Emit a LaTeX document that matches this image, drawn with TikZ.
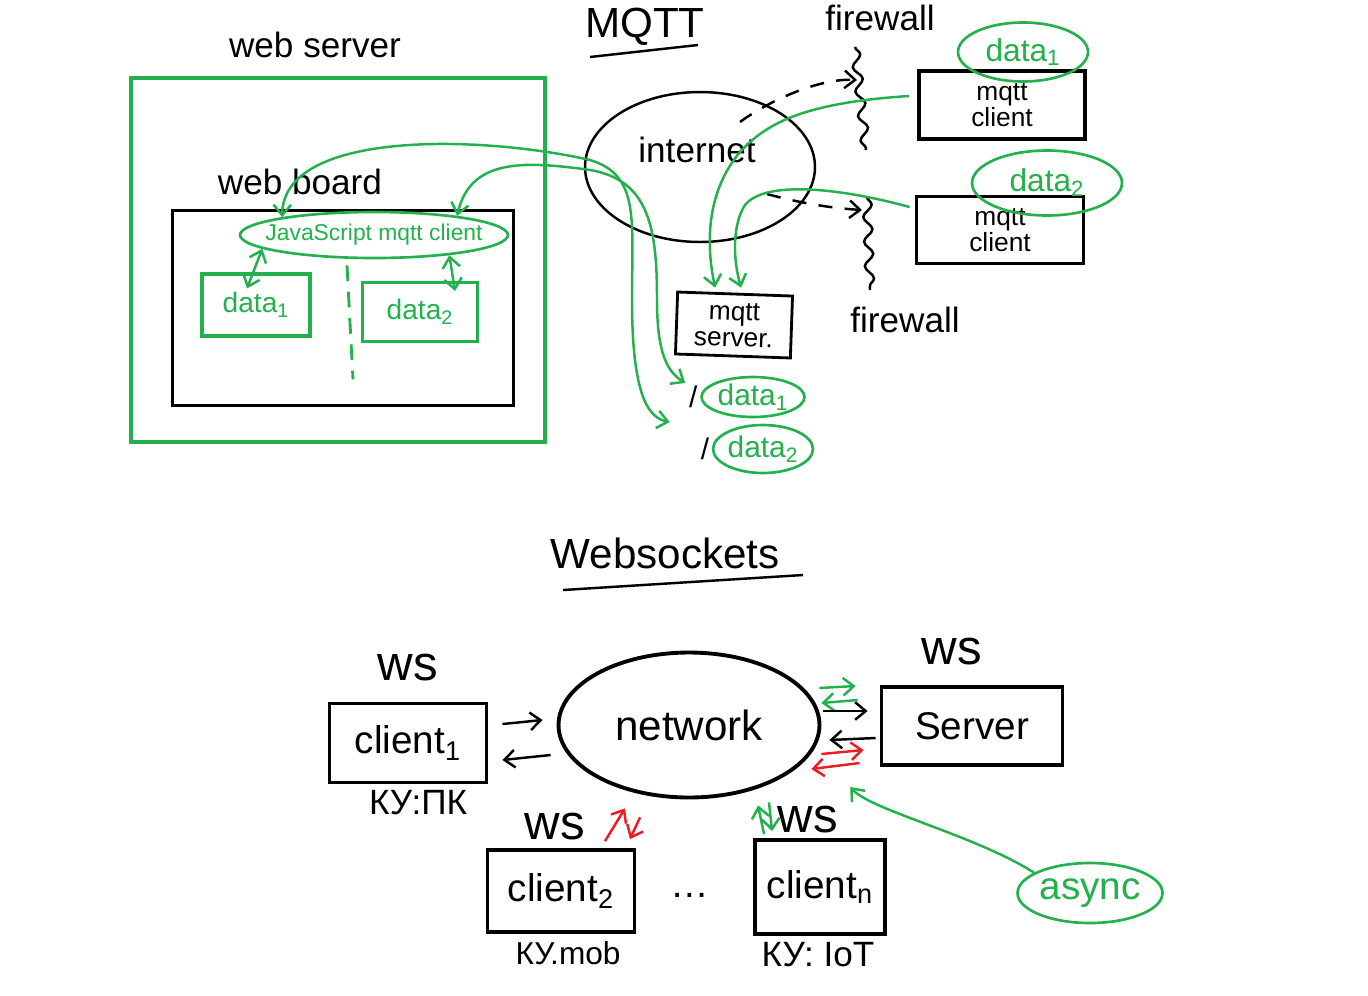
\documentclass[tikz,border=0pt]{standalone}
\usepackage{fontspec}
\setmainfont{Liberation Sans}
\usetikzlibrary{arrows.meta,shapes.geometric,positioning,calc,decorations.pathmorphing}

\definecolor{pgreen}{RGB}{34,177,76}
\definecolor{pred}{RGB}{237,28,36}

\begin{document}
\begin{tikzpicture}[
    x=0.02cm, y=-0.02cm,
    >={Straight Barb[length=6pt,width=10pt]},
    txt/.style={font=\fontsize{#1}{#1}\selectfont},
    box/.style={draw, line width=2.2pt, inner sep=0pt},
    gbox/.style={draw=pgreen, text=pgreen, line width=1.8pt, inner sep=0pt},
    gell/.style={ellipse, draw=pgreen, text=pgreen, line width=1.5pt, inner sep=0pt},
    arr/.style={->, line width=1.4pt},
    garr/.style={arr, pgreen},
    rarr/.style={arr, pred},
    wall/.style={line width=1.4pt, decorate, decoration={snake, amplitude=2.5pt, segment length=14pt}}
]
\fill[white] (0,0) rectangle (1368,995);
\useasboundingbox (0,0) rectangle (1368,995);

% web server with its board
\node[txt=20] (webserverlbl) at (315,45) {web server};
\node[gbox, line width=2.4pt, minimum width=8.28cm, minimum height=7.28cm] (webserver) at (338,260) {};
\node[txt=20] (webboardlbl) at (300,182) {web board};
\node[box, minimum width=6.82cm, minimum height=3.9cm] (webboard) at (343,308) {};
\node[gell, txt=13, inner xsep=-14pt, minimum width=5.36cm, minimum height=0.92cm] (jsclient) at (374,235) {JavaScript mqtt client};
\node[gbox, txt=16, minimum width=2.16cm, minimum height=1.24cm] (data1) at (256,305) {data\textsubscript{1}};
\node[gbox, txt=16, minimum width=2.3cm, minimum height=1.18cm] (data2) at (420,312) {data\textsubscript{2}};

\draw[garr, <->] (jsclient.187) -- ([shift={(-9,16)}]data1.north);
\draw[garr, <->] (jsclient.-15) -- ([shift={(35,10)}]data2.north);
\draw[pgreen, line width=1.6pt, dash pattern=on 9pt off 6pt] ([shift={(-27,6)}]jsclient.south) -- ([shift={(10,-28)}]webboard.south);

% MQTT
\node[txt=24] (mqttlbl) at (645,27) {MQTT};
\draw[line width=1.4pt] (590,57) -- (698,45);
\node[ellipse, draw, line width=1.4pt, minimum width=4.6cm, minimum height=3cm] (internet) at (700,167) {};
\node[txt=20] (internetlbl) at (697,150) {internet};
\node[txt=20] (fwtoplbl) at (880,18) {firewall};
\node[txt=20] (fwbotlbl) at (905,320) {firewall};
\coordinate (fw1a) at (855,47);
\coordinate (fw1b) at (866,150);
\coordinate (fw2a) at (867,197);
\coordinate (fw2b) at (870,290);
\coordinate (fwhit1) at (857,80);
\coordinate (fwhit2) at (862,210);
\draw[wall] (fw1a) -- (fw1b);
\draw[wall] (fw2a) -- (fw2b);

\node[box, txt=15, align=center, minimum width=3.32cm, minimum height=1.36cm] (mqttc1) at (1002,105) {mqtt\\client};
\node[gell, txt=18, minimum width=2.6cm, minimum height=1.18cm] (topdata1) at (1023,52) {data\textsubscript{1}};
\node[box, txt=15, align=center, minimum width=3.34cm, minimum height=1.34cm] (mqttc2) at (1000,230) {mqtt\\client};
\node[gell, txt=18, minimum width=3cm, minimum height=1.3cm] (topdata2) at (1047,183) {data\textsubscript{2}};
\node[box, line width=1.6pt, txt=15, align=center, rotate=-2, minimum width=2.3cm, minimum height=1.24cm] (mqttserver) at (734,325) {mqtt\\server.};
\node[gell, txt=17, minimum width=2.06cm, minimum height=0.8cm, label={[txt=17, text=black, label distance=-2pt]left:/}] (pdata1) at (753,397) {data\textsubscript{1}};
\node[gell, txt=17, minimum width=1.64cm, minimum height=0.96cm, label={[txt=17, text=black, label distance=-2pt]left:/}] (pdata2) at (763,449) {data\textsubscript{2}};

\draw[arr, dash pattern=on 8pt off 7pt] ([shift={(40,-45)}]internet.center) .. controls (770,100) and (820,78) .. (fwhit1);
\draw[arr, dash pattern=on 8pt off 7pt] ([shift={(67,27)}]internet.center) .. controls (800,203) and (830,208) .. (fwhit2);

\draw[garr] ([shift={(-8,-9)}]mqttc1.west) .. controls (800,103) and (765,125) .. (740,152)
    .. controls (708,190) and (705,240) .. ([shift={(-20,-5)}]mqttserver.north);
\draw[garr] ([shift={(-5,-23)}]mqttc2.west) .. controls (840,188) and (765,180) .. (745,205)
    .. controls (732,225) and (733,260) .. ([shift={(6,-5)}]mqttserver.north);

\draw[garr, <->] (jsclient.169) .. controls (283,130) and (480,135) .. (590,160)
    .. controls (640,175) and (632,220) .. (632,300)
    .. controls (632,400) and (650,418) .. ([shift={(-42,-27)}]pdata2.west);
\draw[garr, <->] (jsclient.13) .. controls (470,160) and (520,160) .. (590,170)
    .. controls (650,180) and (657,230) .. (657,300)
    .. controls (657,355) and (668,372) .. ([shift={(-15,-14)}]pdata1.west);

% Websockets
\node[txt=24] (wstitle) at (665,553) {Websockets};
\draw[line width=1.4pt] (563,590) -- (803,575);
\node[box, txt=22, minimum width=3.14cm, minimum height=1.58cm] (client1) at (408,743) {client\textsubscript{1}};
\node[txt=28] (ws1) at (408,668) {ws};
\node[txt=20] (ky1) at (418,803) {КУ:ПК};
\node[ellipse, draw, line width=2.2pt, txt=24, minimum width=5.22cm, minimum height=2.9cm] (network) at (689,725) {network};
\node[box, txt=22, minimum width=3.62cm, minimum height=1.56cm] (server) at (972,726) {Server};
\node[txt=28] (wss) at (952,652) {ws};
\node[box, txt=22, minimum width=2.94cm, minimum height=1.64cm] (client2) at (561,891) {client\textsubscript{2}};
\node[txt=28] (ws2) at (555,827) {ws};
\node[txt=18] (ky2) at (568,953) {КУ.mob};
\node[txt=22] (dots) at (690,895) {\dots};
\node[box, txt=22, minimum width=2.6cm, minimum height=1.88cm] (clientn) at (820,887) {client\textsubscript{n}};
\node[txt=28] (wsn) at (808,820) {ws};
\node[txt=20] (kyn) at (818,955) {КУ: IoT};
\node[gell, txt=22, minimum width=2.9cm, minimum height=1.2cm] (async) at (1090,893) {async};

\draw[arr] ([shift={(14,-19)}]client1.east) -- ([shift={(-14,-5)}]network.west);
\draw[arr] ([shift={(-6,30)}]network.west) -- ([shift={(14,17)}]client1.east);

\draw[garr] ([shift={(-2,-37)}]network.east) -- ([shift={(-24,-40)}]server.west);
\draw[garr] ([shift={(-22,-26)}]server.west) -- ([shift={(0,-22)}]network.east);
\draw[arr] ([shift={(2,-14)}]network.east) -- ([shift={(-12,-15)}]server.west);
\draw[arr] ([shift={(-4,12)}]server.west) -- ([shift={(8,15)}]network.east);
\draw[rarr] ([shift={(0,29)}]network.east) -- ([shift={(-16,24)}]server.west);
\draw[rarr] ([shift={(-20,37)}]server.west) -- ([shift={(-10,44)}]network.east);

\draw[rarr] ([shift={(44,-7)}]client2.north) -- ([shift={(-64,9)}]network.south);
\draw[rarr] ([shift={(-49,18)}]network.south) -- ([shift={(69,-9)}]client2.north);
\draw[garr] ([shift={(-56,-4)}]clientn.north) -- ([shift={(69,6)}]network.south);
\draw[garr] ([shift={(80,3)}]network.south) -- ([shift={(-48,-7)}]clientn.north);

\draw[garr] (async.160) .. controls (975,835) and (870,810) .. ([shift={(29,62)}]network.east);
\end{tikzpicture}
\end{document}
